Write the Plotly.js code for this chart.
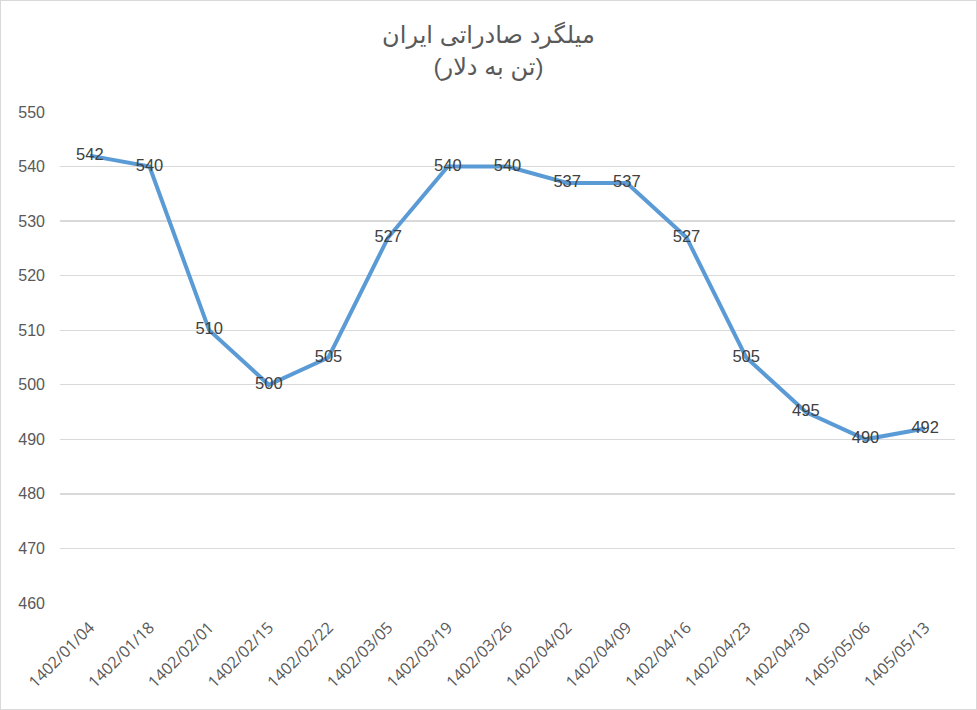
<!DOCTYPE html>
<html><head><meta charset="utf-8">
<script src="https://cdn.plot.ly/plotly-3.0.1.min.js"></script>
<style>html,body{margin:0;padding:0;background:#fff}#c{width:975px;height:708px;border:1px solid #d9d9d9}</style>
</head><body><div id="c"></div>
<script>
const categories = ["1402/01/04","1402/01/18","1402/02/01","1402/02/15","1402/02/22","1402/03/05","1402/03/19","1402/03/26","1402/04/02","1402/04/09","1402/04/16","1402/04/23","1402/04/30","1405/05/06","1405/05/13"];
const values = [542,540,510,500,505,527,540,540,537,537,527,505,495,490,492];
const titleLines = ["میلگرد صادراتی ایران","(تن به دلار)"];
const yTicks = [460,470,480,490,500,510,520,530,540,550];

const trace = {
  x: categories, y: values, type: 'scatter', mode: 'lines+text',
  text: values.map(String), textposition: 'middle center',
  textfont: {family: 'Liberation Sans, Arial, sans-serif', size: 16.5, color: '#404040'},
  line: {color: '#5b9bd5', width: 4, shape: 'linear'},
  cliponaxis: false, hoverinfo: 'none'
};
const layout = {
  width: 975, height: 708,
  margin: {l: 59, r: 21, t: 111, b: 106},
  paper_bgcolor: '#fff', plot_bgcolor: '#fff',
  showlegend: false,
  title: {text: titleLines.join('<br>'), x: 0.5, xanchor: 'center', y: 0.94, yanchor: 'top',
          font: {family: 'Liberation Sans, DejaVu Sans, Arial, sans-serif', size: 24, color: '#595959'}},
  xaxis: {type: 'category', range: [-0.5, categories.length - 0.5], tickangle: -45,
          showgrid: false, zeroline: false, showline: false, ticks: '',
          ticklabelstandoff: 11,
          tickfont: {family: 'Open Sans, Liberation Sans, sans-serif', size: 16, color: '#595959'}},
  yaxis: {range: [460, 550], tickvals: yTicks, ticktext: yTicks.map(String),
          showgrid: true, gridcolor: '#d9d9d9', gridwidth: 1.3, zeroline: false, showline: false, ticks: '',
          ticklabelstandoff: 14,
          tickfont: {family: 'Liberation Sans, Arial, sans-serif', size: 16, color: '#595959'}}
};
Plotly.newPlot('c', [trace], layout, {displayModeBar: false, staticPlot: true});
</script></body></html>
